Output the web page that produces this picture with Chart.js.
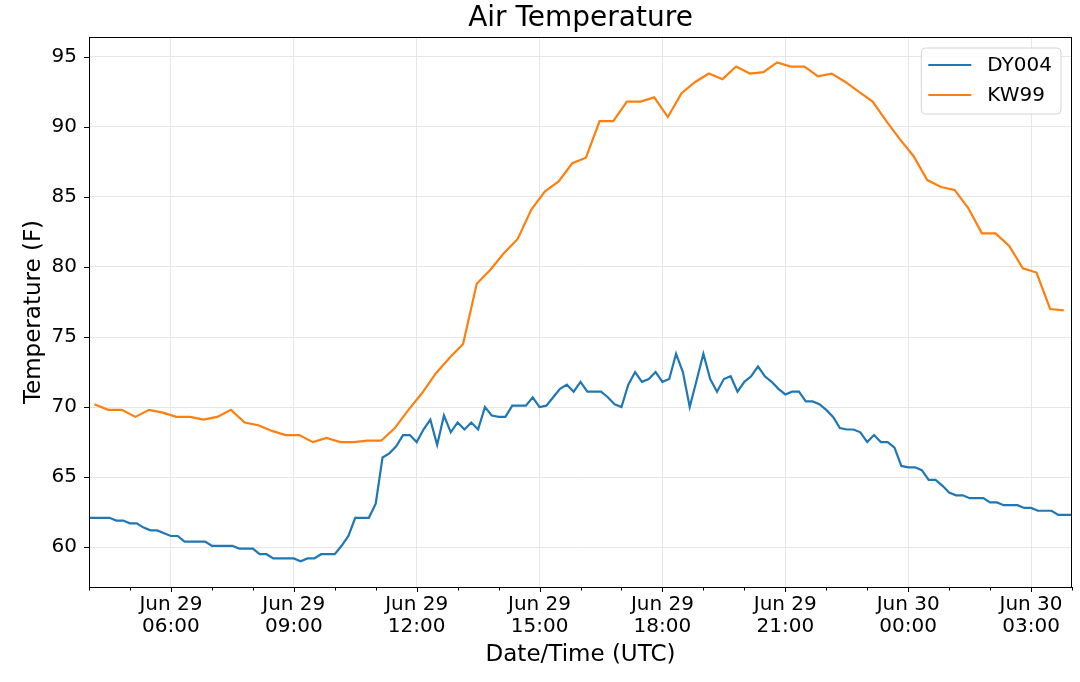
<!DOCTYPE html>
<html>
<head>
<meta charset="utf-8">
<script src="https://cdn.jsdelivr.net/npm/chart.js@4.4.1/dist/chart.umd.min.js"></script>
<style>
  html, body { margin: 0; padding: 0; background: #fff; }
  canvas { display: block; }
</style>
</head>
<body>
<canvas id="chart-air-temp" width="1080" height="682"></canvas>
<script>
// minutes after 2019-06-29 04:00 UTC
const X_MIN = 0;
const X_MAX = 1440;

const DY004_START = 0;   // 04:00
const DY004_STEP = 10;
const DY004_TEMP = [
  62.1, 62.1, 62.1, 62.1, 61.9, 61.9, 61.7, 61.7, 61.4, 61.2,
  61.2, 61.0, 60.8, 60.8, 60.4, 60.4, 60.4, 60.4, 60.1, 60.1,
  60.1, 60.1, 59.9, 59.9, 59.9, 59.5, 59.5, 59.2, 59.2, 59.2,
  59.2, 59.0, 59.2, 59.2, 59.5, 59.5, 59.5, 60.1, 60.8, 62.1,
  62.1, 62.1, 63.1, 66.4, 66.7, 67.2, 68.0, 68.0, 67.5, 68.4,
  69.1, 67.3, 69.4, 68.2, 68.9, 68.4, 68.9, 68.4, 70.0, 69.4,
  69.3, 69.3, 70.1, 70.1, 70.1, 70.7, 70.0, 70.1, 70.7, 71.3,
  71.6, 71.1, 71.8, 71.1, 71.1, 71.1, 70.7, 70.2, 70.0, 71.6,
  72.5, 71.8, 72.0, 72.5, 71.8, 72.0, 73.8, 72.5, 70.0, 71.9,
  73.8, 72.0, 71.1, 72.0, 72.2, 71.1, 71.8, 72.2, 72.9, 72.2,
  71.8, 71.3, 70.9, 71.1, 71.1, 70.4, 70.4, 70.2, 69.8, 69.3,
  68.5, 68.4, 68.4, 68.2, 67.5, 68.0, 67.5, 67.5, 67.1, 65.8,
  65.7, 65.7, 65.5, 64.8, 64.8, 64.4, 63.9, 63.7, 63.7, 63.5,
  63.5, 63.5, 63.2, 63.2, 63.0, 63.0, 63.0, 62.8, 62.8, 62.6,
  62.6, 62.6, 62.3, 62.3, 62.3,
];

const KW99_START = 8;    // 04:08
const KW99_STEP = 20;
const KW99_TEMP = [
  70.2, 69.8, 69.8, 69.3, 69.8, 69.6, 69.3, 69.3, 69.1, 69.3,
  69.8, 68.9, 68.7, 68.3, 68.0, 68.0, 67.5, 67.8, 67.5, 67.5,
  67.6, 67.6, 68.5, 69.8, 71.0, 72.4, 73.5, 74.5, 78.8, 79.8,
  81.0, 82.0, 84.1, 85.4, 86.1, 87.4, 87.8, 90.4, 90.4, 91.8,
  91.8, 92.1, 90.7, 92.4, 93.2, 93.8, 93.4, 94.3, 93.8, 93.9,
  94.6, 94.3, 94.3, 93.6, 93.8, 93.2, 92.5, 91.8, 90.4, 89.1,
  87.9, 86.2, 85.7, 85.5, 84.2, 82.4, 82.4, 81.5, 79.9, 79.6,
  77.0, 76.9,
];

const X_TICKS = [120, 300, 480, 660, 840, 1020, 1200, 1380];
const X_TICK_LABELS = [
  ['Jun 29', '06:00'], ['Jun 29', '09:00'], ['Jun 29', '12:00'], ['Jun 29', '15:00'],
  ['Jun 29', '18:00'], ['Jun 29', '21:00'], ['Jun 30', '00:00'], ['Jun 30', '03:00'],
];
const Y_MIN = 57.16;
const Y_MAX = 96.41;
const Y_TICKS = [60, 65, 70, 75, 80, 85, 90, 95];

const FONT = 'DejaVu Sans';
const GRID = '#e6e6e6';

function toPoints(values, start, step) {
  return values.map((v, i) => ({ x: start + i * step, y: v }));
}

// spines, tick marks and the boxed legend, matplotlib style
const axesDecor = {
  id: 'axes-decor',
  afterDraw(chart) {
    const { ctx, chartArea: a, scales } = chart;
    ctx.save();
    ctx.strokeStyle = '#000';
    ctx.lineWidth = 1;

    // minor ticks every hour, major every 3 h
    for (let m = X_MIN; m <= X_MAX; m += 60) {
      const x = Math.round(scales.x.getPixelForValue(m)) + 0.5;
      const len = X_TICKS.includes(m) ? 5 : 3.5;
      ctx.beginPath(); ctx.moveTo(x, a.bottom); ctx.lineTo(x, a.bottom + len); ctx.stroke();
    }
    Y_TICKS.forEach(v => {
      const y = Math.round(scales.y.getPixelForValue(v)) + 0.5;
      ctx.beginPath(); ctx.moveTo(a.left - 5, y); ctx.lineTo(a.left, y); ctx.stroke();
    });
    ctx.strokeRect(a.left + 0.5, a.top + 0.5, a.right - a.left - 1, a.bottom - a.top);

    // legend
    ctx.font = `20px "${FONT}"`;
    const sets = chart.data.datasets;
    const tw = Math.max(...sets.map(d => ctx.measureText(d.label).width));
    const w = 66 + tw + 9, h = 66;
    const x0 = a.right - 11 - w, y0 = a.top + 11, r = 4;
    ctx.beginPath();
    ctx.moveTo(x0 + r, y0);
    ctx.arcTo(x0 + w, y0, x0 + w, y0 + h, r);
    ctx.arcTo(x0 + w, y0 + h, x0, y0 + h, r);
    ctx.arcTo(x0, y0 + h, x0, y0, r);
    ctx.arcTo(x0, y0, x0 + w, y0, r);
    ctx.closePath();
    ctx.fillStyle = 'rgba(255,255,255,0.85)';
    ctx.fill();
    ctx.strokeStyle = '#d4d4d4';
    ctx.stroke();
    sets.forEach((d, i) => {
      const y = y0 + 17 + i * 30;
      ctx.strokeStyle = d.borderColor;
      ctx.lineWidth = 2.2;
      ctx.beginPath(); ctx.moveTo(x0 + 7, y); ctx.lineTo(x0 + 50, y); ctx.stroke();
      ctx.fillStyle = '#000';
      ctx.textBaseline = 'middle';
      ctx.fillText(d.label, x0 + 66, y + 1);
    });
    ctx.restore();
  },
};

new Chart(document.getElementById('chart-air-temp').getContext('2d'), {
  type: 'line',
  data: {
    datasets: [
      {
        label: 'DY004',
        data: toPoints(DY004_TEMP, DY004_START, DY004_STEP),
        borderColor: '#1f77b4',
      },
      {
        label: 'KW99',
        data: toPoints(KW99_TEMP, KW99_START, KW99_STEP),
        borderColor: '#ff7f0e',
      },
    ],
  },
  options: {
    responsive: false,
    animation: false,
    events: [],
    layout: { padding: { left: 0, right: 8, top: 0, bottom: 0 } },
    elements: {
      line: { borderWidth: 2.2, tension: 0, fill: false },
      point: { radius: 0 },
    },
    plugins: {
      legend: { display: false },
      tooltip: { enabled: false },
      title: {
        display: true,
        fullSize: false,
        text: 'Air Temperature',
        color: '#000',
        font: { family: FONT, size: 28, weight: 'normal', lineHeight: 1.2 },
        padding: { top: 2, bottom: 1.4 },
      },
    },
    scales: {
      x: {
        type: 'linear',
        min: X_MIN,
        max: X_MAX,
        offset: false,
        afterBuildTicks: s => { s.ticks = X_TICKS.map(v => ({ value: v })); },
        afterFit: s => { s.height = 95; },
        grid: { color: GRID, lineWidth: 1, drawTicks: false },
        border: { display: false },
        ticks: {
          autoSkip: false,
          maxRotation: 0,
          minRotation: 0,
          padding: 6,
          color: '#000',
          font: { family: FONT, size: 20, lineHeight: 1.13 },
          callback: v => X_TICK_LABELS[X_TICKS.indexOf(v)] ?? '',
        },
        title: {
          display: true,
          text: 'Date/Time (UTC)',
          color: '#000',
          font: { family: FONT, size: 23 },
          padding: { top: 0, bottom: 13 },
        },
      },
      y: {
        min: Y_MIN,
        max: Y_MAX,
        afterBuildTicks: s => { s.ticks = Y_TICKS.map(v => ({ value: v })); },
        afterFit: s => { s.width = 89; },
        grid: { color: GRID, lineWidth: 1, drawTicks: false },
        border: { display: false },
        ticks: {
          padding: 12,
          color: '#000',
          font: { family: FONT, size: 20 },
        },
        title: {
          display: true,
          text: 'Temperature (F)',
          color: '#000',
          font: { family: FONT, size: 23 },
          padding: { top: 20, bottom: 0 },
        },
      },
    },
  },
  plugins: [axesDecor],
});
</script>
</body>
</html>
